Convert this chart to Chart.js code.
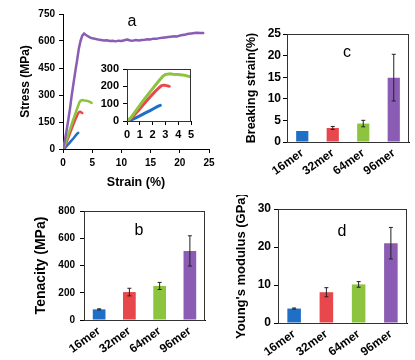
<!DOCTYPE html>
<html>
<head>
<meta charset="utf-8">
<script src="https://cdn.jsdelivr.net/npm/chart.js@4.4.0/dist/chart.umd.min.js"></script>
<style>
    body { margin: 0; background: #fff; }
    #wrap { position: relative; width: 415px; height: 360px; overflow: hidden; }
    .panel { position: absolute; }
</style>
</head>
<body>
<div id="wrap">
    <div class="panel" style="left:0;top:0"><canvas id="chartA" width="215" height="195"></canvas></div>
    <div class="panel" style="left:95px;top:58px"><canvas id="chartInset" width="100" height="87"></canvas></div>
    <div class="panel" style="left:200px;top:0"><canvas id="chartC" width="215" height="195"></canvas></div>
    <div class="panel" style="left:0;top:195px"><canvas id="chartB" width="210" height="165"></canvas></div>
    <div class="panel" style="left:205px;top:195px"><canvas id="chartD" width="210" height="165"></canvas></div>
</div>
<script>
/****************************************************
 * DATA
 ***************************************************/

const mers = ['16mer', '32mer', '64mer', '96mer'];
const merColours = ['#1f6fc6', '#e8474c', '#8cc43f', '#8b5cb3'];

// stress-strain curves (strain %, stress MPa)
const strain16 = [0, 0.3, 0.6, 1.0, 1.4, 1.8, 2.1, 2.4, 2.6];
const stress16 = [0, 5, 15, 30, 45, 60, 72, 84, 90];
const strain32 = [0, 0.3, 0.6, 1.0, 1.4, 1.8, 2.2, 2.5, 2.7, 2.9, 3.1, 3.3];
const stress32 = [0, 15, 38, 70, 105, 138, 170, 192, 204, 207, 204, 200];
const strain64 = [0, 0.3, 0.6, 1.0, 1.4, 1.8, 2.2, 2.5, 2.8, 3.0, 3.3, 3.6, 4.0, 4.3, 4.6, 4.9];
const stress64 = [0, 20, 50, 90, 130, 168, 205, 232, 258, 268, 272, 270, 268, 266, 262, 256];
const strain96 = [0, 0.3, 0.6, 0.9, 1.2, 1.5, 1.8, 2.1, 2.4, 2.7, 3.0, 3.3, 3.6, 3.8, 4.2, 4.6, 5, 5.5, 6, 6.5,
    7, 7.5, 8, 8.5, 9, 9.5, 10, 10.5, 11, 11.5, 12, 12.5, 13, 13.5, 14, 14.5, 15, 15.5, 16, 16.5,
    17, 17.5, 18, 18.5, 19, 19.5, 20, 20.5, 21, 21.5, 22, 22.5, 23, 23.5, 24];
const stress96 = [0, 45, 100, 160, 225, 300, 365, 430, 490, 555, 600, 630, 642, 636, 628, 620, 615, 612, 608, 606,
    603, 604, 600, 601, 598, 602, 600, 604, 608, 603, 602, 605, 603, 606, 607, 610, 609, 613, 612, 616,
    618, 620, 622, 624, 626, 625, 630, 633, 636, 640, 642, 644, 646, 645, 644];

// bar panels
const tenacity = [78, 205, 250, 507];
const tenacityErr = [4, 28, 26, 111];
const breakStrain = [2.55, 3.25, 4.27, 14.9];
const breakStrainErr = [0, 0.35, 0.75, 5.4];
const modulus = [3.8, 8.1, 10.15, 21.0];
const modulusErr = [0.15, 1.2, 0.75, 4.15];

/****************************************************
 * PLUGINS
 ***************************************************/

Chart.defaults.font.family = "'Liberation Sans', Arial, sans-serif";
Chart.defaults.color = '#000';
Chart.defaults.animation = false;
Chart.defaults.plugins.legend.display = false;
Chart.defaults.plugins.tooltip.enabled = false;

// vertical error bars on top of dataset 0
const errorBars = {
    id: 'errorBars',
    afterDatasetsDraw(chart, args, opts) {
        if (!opts.err) return;
        const ctx = chart.ctx;
        const y = chart.scales.y;
        const values = chart.data.datasets[0].data;
        ctx.save();
        ctx.strokeStyle = '#222';
        ctx.lineWidth = 1;
        chart.getDatasetMeta(0).data.forEach((bar, i) => {
            const e = opts.err[i];
            if (!e) return;
            const top = y.getPixelForValue(values[i] + e);
            const bot = y.getPixelForValue(values[i] - e);
            ctx.beginPath();
            ctx.moveTo(bar.x, top); ctx.lineTo(bar.x, bot);
            ctx.moveTo(bar.x - 2, top); ctx.lineTo(bar.x + 2, top);
            ctx.moveTo(bar.x - 2, bot); ctx.lineTo(bar.x + 2, bot);
            ctx.stroke();
        });
        ctx.restore();
    }
};

// box round the plot area
const frame = {
    id: 'frame',
    afterDraw(chart, args, opts) {
        if (!opts.show) return;
        const {ctx, chartArea: a} = chart;
        ctx.save();
        ctx.strokeStyle = '#333';
        ctx.lineWidth = 1;
        ctx.strokeRect(a.left + 0.5, a.top + 0.5, a.right - a.left - 1, a.bottom - a.top);
        ctx.restore();
    }
};

// panel letter (a, b, c, d)
const panelLetter = {
    id: 'panelLetter',
    afterDraw(chart, args, opts) {
        if (!opts.text) return;
        const ctx = chart.ctx;
        ctx.save();
        ctx.font = "16px 'Liberation Sans', Arial, sans-serif";
        ctx.fillStyle = '#000';
        ctx.textAlign = 'center';
        ctx.textBaseline = 'middle';
        ctx.fillText(opts.text, opts.x, opts.y);
        ctx.restore();
    }
};

/****************************************************
 * AXIS HELPERS
 ***************************************************/

function yAxis(o) {
    return {
        min: 0, max: o.max,
        ticks: { stepSize: o.step, font: { size: o.tickSize, weight: 'bold' }, padding: o.tickPad },
        grid: { drawOnChartArea: false, drawTicks: true, tickLength: o.tickLen, color: '#000' },
        border: { color: '#000' },
        title: {
            display: !!o.title, text: o.title,
            font: { size: o.titleSize, weight: 'bold' },
            padding: { top: o.titlePad || 0, bottom: 0 }
        },
        afterFit(s) { s.width = o.width; s.paddingTop = 0; s.paddingBottom = 0; }
    };
}

function linearX(o) {
    return {
        type: 'linear', min: 0, max: o.max,
        ticks: { stepSize: o.step, font: { size: o.tickSize, weight: 'bold' }, padding: o.tickPad, maxRotation: 0 },
        grid: { drawOnChartArea: false, drawTicks: true, tickLength: 4, color: '#000' },
        border: { color: '#000' },
        title: {
            display: !!o.title, text: o.title,
            font: { size: o.titleSize, weight: 'bold' },
            padding: { top: 0, bottom: o.titlePad || 0 }
        },
        afterFit(s) { s.height = o.height; s.paddingLeft = 0; s.paddingRight = 0; }
    };
}

function categoryX(height, fontSize) {
    return {
        ticks: { font: { size: fontSize, weight: 'bold' }, minRotation: 36, maxRotation: 36, padding: 4, autoSkip: false },
        grid: { drawOnChartArea: false, drawTicks: false, color: '#000' },
        border: { color: '#000' },
        afterFit(s) { s.height = height; s.paddingLeft = 0; s.paddingRight = 0; }
    };
}

function xy(xs, ys) {
    return xs.map((x, i) => ({ x: x, y: ys[i] }));
}

function curve(xs, ys, colour, width) {
    return {
        data: xy(xs, ys),
        borderColor: colour,
        borderWidth: width,
        pointRadius: 0,
        tension: 0,
        borderCapStyle: 'round',
        borderJoinStyle: 'round',
    };
}

/****************************************************
 * PANEL A - STRESS / STRAIN
 ***************************************************/

new Chart(document.getElementById('chartA'), {
    type: 'line',
    data: {
        datasets: [
            curve(strain96, stress96, merColours[3], 2.5),
            curve(strain64, stress64, merColours[2], 2.5),
            curve(strain32, stress32, merColours[1], 2.5),
            curve(strain16, stress16, merColours[0], 2.5),
        ]
    },
    options: {
        responsive: false,
        layout: { padding: { top: 14, right: 6, left: 0, bottom: 0 } },
        scales: {
            x: linearX({ max: 25, step: 5, tickSize: 10, tickPad: 4, title: 'Strain (%)', titleSize: 12.5, titlePad: 5, height: 46 }),
            y: yAxis({ max: 750, step: 150, tickSize: 10, tickPad: 4, tickLen: 4, title: 'Stress (MPa)', titleSize: 12, titlePad: 18, width: 63 }),
        },
        plugins: { panelLetter: { text: 'a', x: 132, y: 22 } }
    },
    plugins: [panelLetter]
});

// inset, first 5 % of strain
new Chart(document.getElementById('chartInset'), {
    type: 'line',
    data: {
        datasets: [
            curve(strain64, stress64, merColours[2], 3),
            curve(strain32, stress32, merColours[1], 3),
            curve(strain16, stress16, merColours[0], 3),
        ]
    },
    options: {
        responsive: false,
        layout: { padding: { top: 11, right: 4, left: 0, bottom: 0 } },
        scales: {
            x: linearX({ max: 5, step: 1, tickSize: 11, tickPad: 3, height: 24 }),
            y: yAxis({ max: 300, step: 100, tickSize: 11, tickPad: 4, tickLen: 4, width: 32 }),
        },
        plugins: { frame: { show: true } }
    },
    plugins: [frame]
});

/****************************************************
 * BAR PANELS
 ***************************************************/

function barChart(id, values, errs, o) {
    return new Chart(document.getElementById(id), {
        type: 'bar',
        data: {
            labels: mers,
            datasets: [{
                data: values,
                backgroundColor: merColours,
                borderWidth: 0,
                categoryPercentage: 1,
                barPercentage: o.barPct,
            }]
        },
        options: {
            responsive: false,
            layout: { padding: { top: o.top, right: o.right, left: 0, bottom: 0 } },
            scales: {
                x: categoryX(o.xHeight, o.catSize),
                y: yAxis({ max: o.max, step: o.step, tickSize: o.tickSize, tickPad: o.tickPad, tickLen: 4,
                    title: o.title, titleSize: o.titleSize, titlePad: o.titlePad, width: o.yWidth }),
            },
            plugins: {
                errorBars: { err: errs },
                frame: { show: true },
                panelLetter: o.letter,
            }
        },
        plugins: [errorBars, frame, panelLetter]
    });
}

barChart('chartC', breakStrain, breakStrainErr, {
    max: 25, step: 5, tickSize: 12, tickPad: 2, title: 'Breaking strain(%)', titleSize: 12.5, titlePad: 44,
    yWidth: 87, top: 34, right: 6, xHeight: 53, catSize: 12, barPct: 0.4,
    letter: { text: 'c', x: 147, y: 53 }
});

barChart('chartB', tenacity, tenacityErr, {
    max: 800, step: 200, tickSize: 10, tickPad: 5, title: 'Tenacity (MPa)', titleSize: 14, titlePad: 33,
    yWidth: 84, top: 16, right: 5, xHeight: 40, catSize: 12, barPct: 0.42,
    letter: { text: 'b', x: 139, y: 36 }
});

barChart('chartD', modulus, modulusErr, {
    max: 30, step: 10, tickSize: 12, tickPad: 3, title: "Young's modulus (GPa)", titleSize: 13, titlePad: 29,
    yWidth: 73, top: 14, right: 8, xHeight: 37, catSize: 12, barPct: 0.42,
    letter: { text: 'd', x: 137, y: 37 }
});
</script>
</body>
</html>
